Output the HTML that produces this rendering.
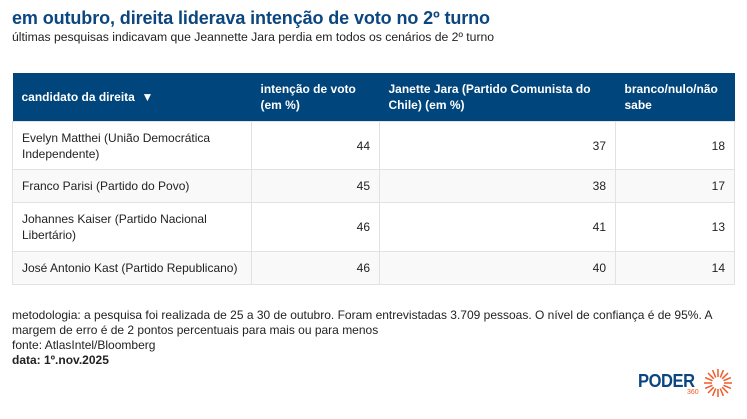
<!DOCTYPE html>
<html><head><meta charset="utf-8"><style>
body{margin:0;width:747px;height:419px;background:#fff;font-family:"Liberation Sans",Arial,sans-serif;position:relative;overflow:hidden;color:#222}
.t{position:absolute;left:12px;top:8px;font-size:18px;font-weight:bold;color:#0b4680;letter-spacing:-0.1px}
.s{position:absolute;left:12px;top:30px;font-size:12.2px;color:#222}
table{position:absolute;left:12px;top:73px;width:723px;border-collapse:collapse;font-size:12px}
th{background:#00457c;color:#fff;text-align:left;font-weight:bold;height:48px;padding:0 9px;vertical-align:middle;line-height:16px}
td{border:1px solid #e2e2e2;padding:0 9px;line-height:16px}
td.n{text-align:right}
tr.a td{background:#f9f9f9}
.f{position:absolute;left:12px;top:308px;font-size:12px;line-height:15px;width:705px}
</style></head><body>
<div class="t">em outubro, direita liderava intenção de voto no 2º turno</div>
<div class="s">últimas pesquisas indicavam que Jeannette Jara perdia em todos os cenários de 2º turno</div>
<table>
<tr><th style="width:221px">candidato da direita &nbsp;▼</th><th style="width:110px">intenção de voto<br>(em %)</th><th style="width:218px">Janette Jara (Partido Comunista do Chile) (em %)</th><th>branco/nulo/não sabe</th></tr>
<tr style="height:48px"><td>Evelyn Matthei (União Democrática Independente)</td><td class="n">44</td><td class="n">37</td><td class="n">18</td></tr>
<tr class="a" style="height:33px"><td>Franco Parisi (Partido do Povo)</td><td class="n">45</td><td class="n">38</td><td class="n">17</td></tr>
<tr style="height:49px"><td>Johannes Kaiser (Partido Nacional Libertário)</td><td class="n">46</td><td class="n">41</td><td class="n">13</td></tr>
<tr class="a" style="height:33px"><td style="white-space:nowrap">José Antonio Kast (Partido Republicano)</td><td class="n">46</td><td class="n">40</td><td class="n">14</td></tr>
</table>
<div class="f">metodologia: a pesquisa foi realizada de 25 a 30 de outubro. Foram entrevistadas 3.709 pessoas. O nível de confiança é de 95%. A margem de erro é de 2 pontos percentuais para mais ou para menos<br>fonte: AtlasIntel/Bloomberg<br><b>data: 1º.nov.2025</b></div>
<div style="position:absolute;left:638px;top:371px;font-size:18px;font-weight:bold;color:#0b4680;letter-spacing:-0.5px;transform:scaleX(0.92);transform-origin:left">PODER</div>
<div style="position:absolute;left:687px;top:389px;font-size:7px;color:#f05a28">360</div>
<svg style="position:absolute;left:703px;top:368px" width="30" height="30" viewBox="-15 -15 30 30">
<g stroke="#f05a28" stroke-width="1.5">
<line x1="0" y1="-6" x2="0" y2="-14"/><line x1="0" y1="6" x2="0" y2="14"/><line x1="-6" y1="0" x2="-14" y2="0"/><line x1="6" y1="0" x2="14" y2="0"/>
<line x1="4.2" y1="-4.2" x2="10" y2="-10"/><line x1="-4.2" y1="4.2" x2="-10" y2="10"/><line x1="4.2" y1="4.2" x2="10" y2="10"/><line x1="-4.2" y1="-4.2" x2="-10" y2="-10"/>
<line x1="2.3" y1="-5.5" x2="5.4" y2="-12.9"/><line x1="5.5" y1="-2.3" x2="12.9" y2="-5.4"/><line x1="5.5" y1="2.3" x2="12.9" y2="5.4"/><line x1="2.3" y1="5.5" x2="5.4" y2="12.9"/>
<line x1="-2.3" y1="5.5" x2="-5.4" y2="12.9"/><line x1="-5.5" y1="2.3" x2="-12.9" y2="5.4"/><line x1="-5.5" y1="-2.3" x2="-12.9" y2="-5.4"/><line x1="-2.3" y1="-5.5" x2="-5.4" y2="-12.9"/>
</g></svg>
</body></html>
